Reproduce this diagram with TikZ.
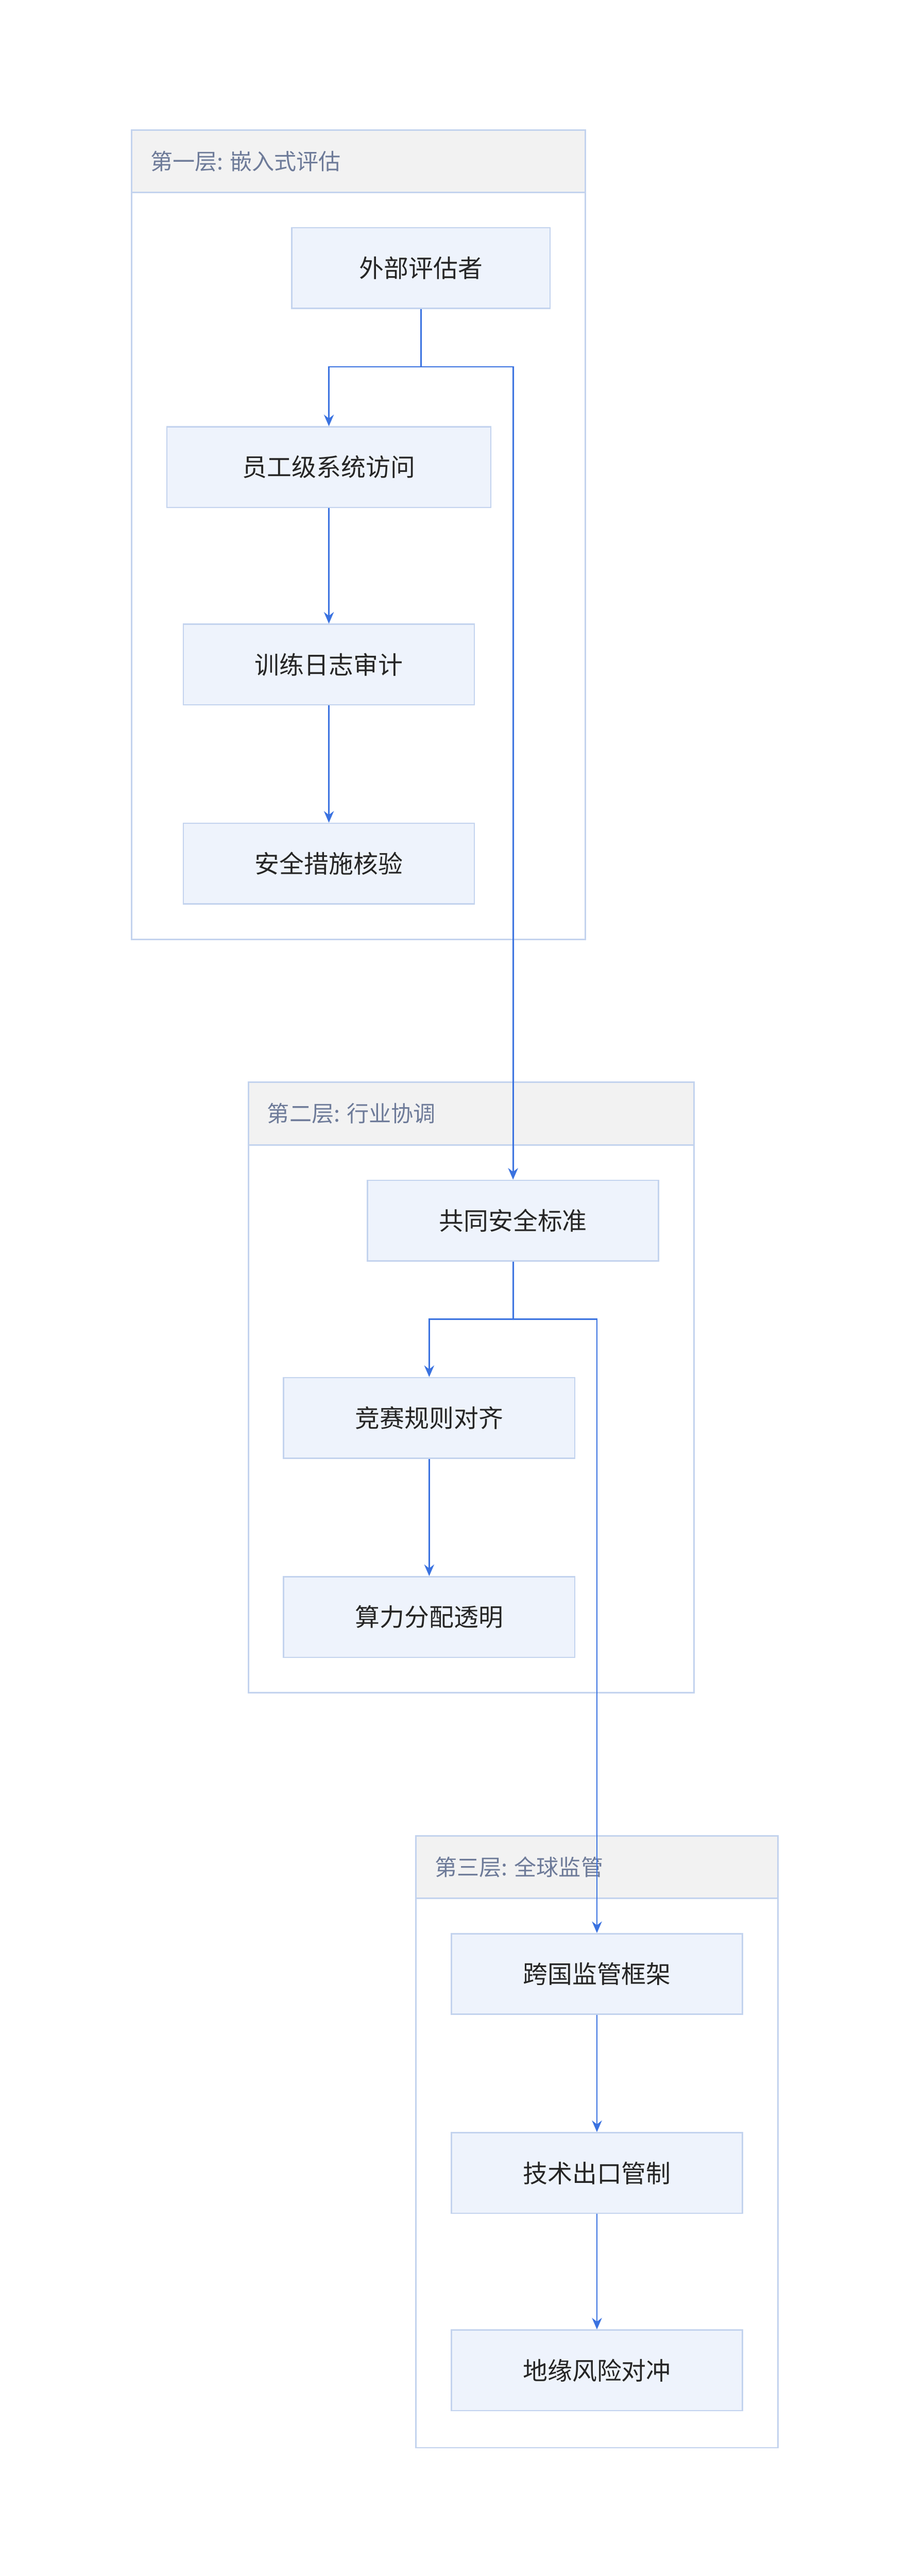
\documentclass[tikz,border=0pt]{standalone}
\usepackage{fontspec}
\setmainfont{Noto Sans CJK SC}
\usetikzlibrary{arrows.meta,positioning}
\definecolor{boxfill}{HTML}{EEF3FC}
\definecolor{boxline}{HTML}{C3D3EE}
\definecolor{headfill}{HTML}{F2F2F2}
\definecolor{headtext}{HTML}{6E7B99}
\definecolor{arrowcol}{HTML}{3A72E0}
\tikzset{
  box/.style={draw=boxline, fill=boxfill, line width=0.8pt, minimum height=49pt,
    minimum width=177pt, inner sep=0pt, font=\fontsize{15}{18}\selectfont, text=black!85},
  grp/.style={draw=boxline, line width=0.9pt},
  head/.style={draw=boxline, fill=headfill, line width=0.9pt},
  headlabel/.style={anchor=west, text=headtext, font=\fontsize{13.5}{16}\selectfont},
  link/.style={draw=arrowcol, line width=0.9pt, -{Stealth[length=7pt,width=6pt]}}
}
\begin{document}
\begin{tikzpicture}[x=1pt,y=-1pt]
  \useasboundingbox (0,0) rectangle (552,1566);
  % group frames
  \draw[grp] (80,79) rectangle (356,571);
  \draw[head] (80,79) rectangle (356,117);
  \node[headlabel] (h1) at (88,98) {第一层: 嵌入式评估};
  \draw[grp] (151,658) rectangle (422,1029);
  \draw[head] (151,658) rectangle (422,696);
  \node[headlabel] (h2) at (159,677) {第二层: 行业协调};
  \draw[grp] (253,1116) rectangle (473,1488);
  \draw[head] (253,1116) rectangle (473,1154);
  \node[headlabel] (h3) at (261,1135) {第三层: 全球监管};

  % nodes
  \node[box, minimum width=157pt] (ext) at (256,163) {外部评估者};
  \node[box, minimum width=197pt] (emp) at (200,284) {员工级系统访问};
  \node[box] (log) at (200,404) {训练日志审计};
  \node[box] (chk) at (200,525) {安全措施核验};
  \node[box] (std) at (312,742) {共同安全标准};
  \node[box] (race) at (261,862) {竞赛规则对齐};
  \node[box] (comp) at (261,983) {算力分配透明};
  \node[box] (intl) at (363,1200) {跨国监管框架};
  \node[box] (exp) at (363,1321) {技术出口管制};
  \node[box] (geo) at (363,1441) {地缘风险对冲};

  % connectors
  \coordinate (j1) at (256,223);
  \coordinate (j2) at (312,802);
  \draw[link] (ext.south) -- (j1) -| (emp.north);
  \draw[link] (ext.south) -- (j1) -| (std.north);
  \draw[link] (emp) -- (log);
  \draw[link] (log) -- (chk);
  \draw[link] (std.south) -- (j2) -| (race.north);
  \draw[link] (std.south) -- (j2) -| (intl.north);
  \draw[link] (race) -- (comp);
  \draw[link] (intl) -- (exp);
  \draw[link] (exp) -- (geo);
\end{tikzpicture}
\end{document}
